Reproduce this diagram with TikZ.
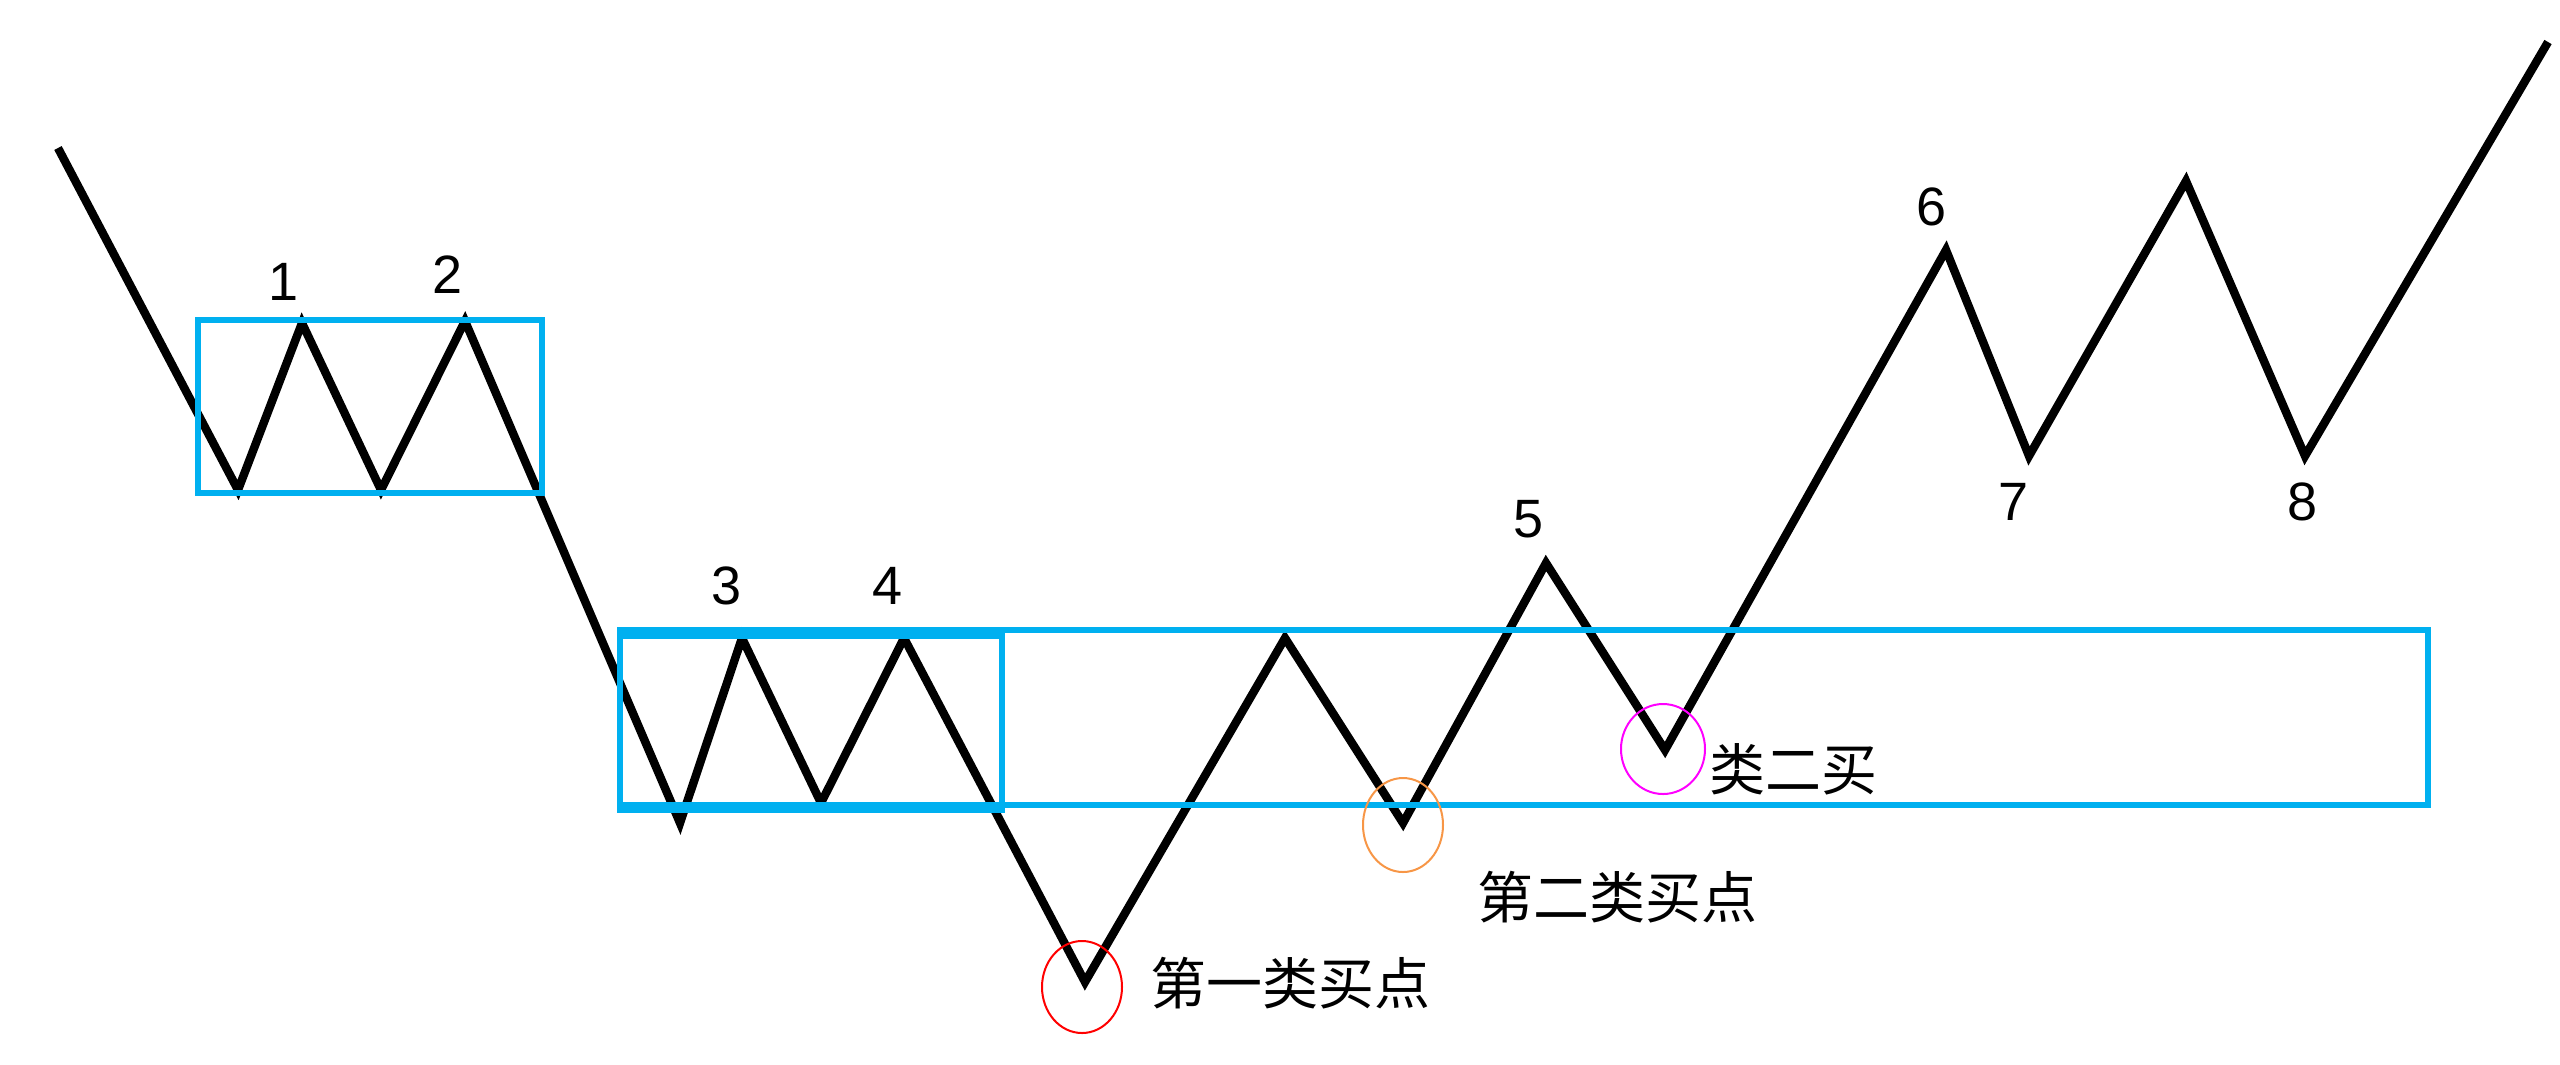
\documentclass[tikz,border=0pt]{standalone}
\usepackage{fontspec}
\setmainfont{Liberation Sans}
\newfontfamily\cjk{Noto Sans CJK SC}
\usepackage{tikz}
\usetikzlibrary{positioning}
\usetikzlibrary{shapes.geometric}

\definecolor{zoneblue}{RGB}{0,176,240}
\definecolor{ringred}{RGB}{255,0,0}
\definecolor{ringorange}{RGB}{247,150,70}
\definecolor{ringpink}{RGB}{255,0,255}

\begin{document}
\begin{tikzpicture}[x=0.25pt,y=-0.25pt,
  wave/.style={line width=2.1pt,line join=miter,draw=black},
  zone/.style={draw=zoneblue,line width=1.3pt},
  ring/.style={ellipse,draw=#1,line width=0.5pt,inner sep=0pt,minimum width=20pt,minimum height=23pt},
  num/.style={font=\fontsize{13.5}{16}\selectfont,inner sep=0.75pt},
  buy/.style={font=\fontsize{14}{16}\selectfont\cjk,inner sep=0.75pt,anchor=west}]
\useasboundingbox (0,0) rectangle (2560,1064);

% turning points of the move
\coordinate (p0) at (58,148);
\coordinate (p1) at (238,490);
\coordinate (p2) at (302,323);
\coordinate (p3) at (381,490);
\coordinate (p4) at (465,321);
\coordinate (p5) at (680,823);
\coordinate (p6) at (742,638);
\coordinate (p7) at (821,803);
\coordinate (p8) at (904,638);
\coordinate (p9) at (1085,982);
\coordinate (p10) at (1285,638);
\coordinate (p11) at (1403,823);
\coordinate (p12) at (1546,563);
\coordinate (p13) at (1665,750);
\coordinate (p14) at (1946,250);
\coordinate (p15) at (2029,456);
\coordinate (p16) at (2186,181);
\coordinate (p17) at (2305,456);
\coordinate (p18) at (2548,42);

%Shape: Polyline
\draw [wave] (p0) -- (p1) -- (p2) -- (p3) -- (p4) -- (p5) -- (p6) -- (p7) -- (p8) -- (p9)
  -- (p10) -- (p11) -- (p12) -- (p13) -- (p14) -- (p15) -- (p16) -- (p17) -- (p18);

%Shape: Rectangle
\draw [zone] (198,320) rectangle (542,493);
%Shape: Rectangle
\draw [zone] (620,630) rectangle (2428,805);
%Shape: Rectangle
\draw [zone,line width=1.6pt] (620,636) rectangle (1002,810);

%Shape: Ellipse
\node [ring=ringred] (c1) at (1082,987) {};
\node [ring=ringorange,minimum height=23.5pt] (c2) at (1403,825) {};
\node [ring=ringpink,minimum width=21pt,minimum height=22.5pt] (c3) at (1663,749) {};

% Text Node
\node [num] (n1) at (284,282) {1};
\node [num] (n2) at (448,275) {2};
\node [num] (n3) at (727,586) {3};
\node [num] (n4) at (888,586) {4};
\node [num] (n5) at (1528,519) {5};
\node [num] (n6) at (1931,207) {6};
\node [num] (n7) at (2013,502) {7};
\node [num] (n8) at (2302,502) {8};

% Text Node
\node [buy,right=6pt of c1,yshift=1pt] (t1) {第一类买点};
\node [buy] (t2) at (1474,897) {第二类买点};
\node [buy,right=0pt of c3,yshift=-5pt] (t3) {类二买};

\end{tikzpicture}
\end{document}
